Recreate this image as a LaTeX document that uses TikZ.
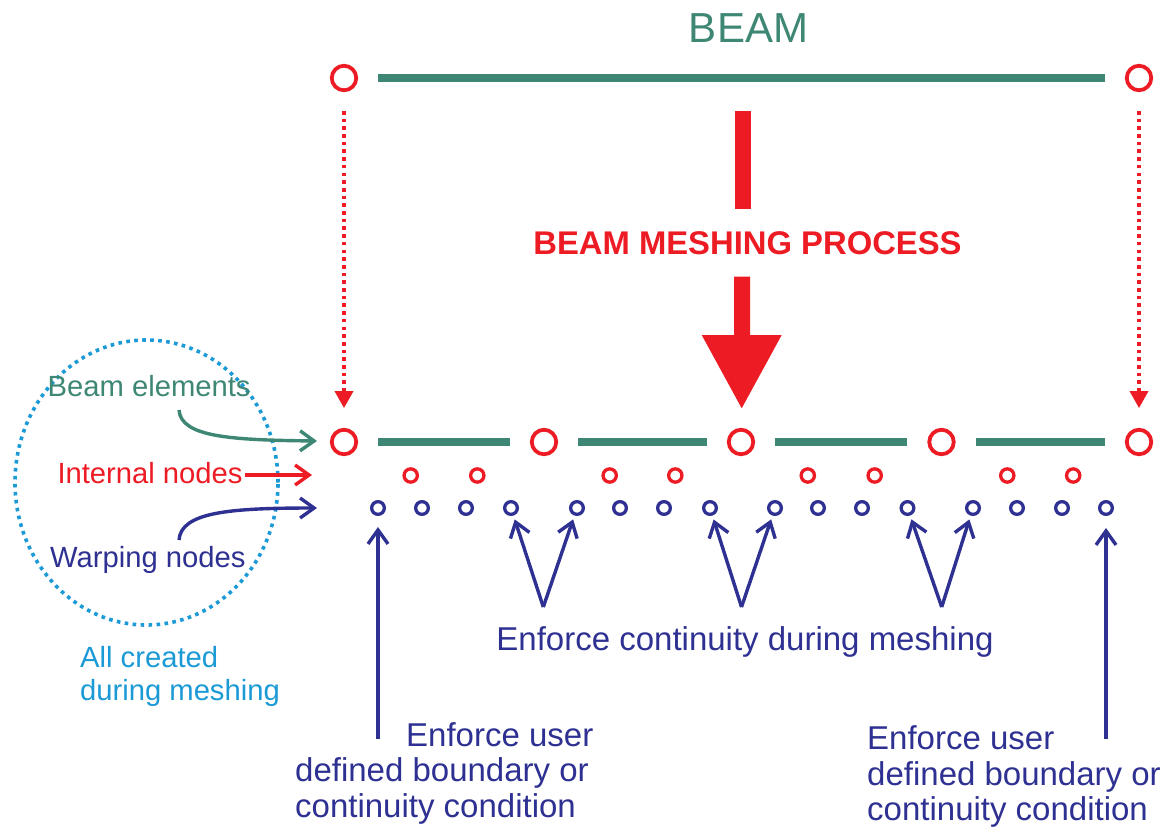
\documentclass[tikz,border=0pt]{standalone}
\usepackage{fontspec}
\setmainfont{Liberation Sans}
\usetikzlibrary{arrows.meta}
\definecolor{beamgreen}{HTML}{3E8774}
\definecolor{nodered}{HTML}{ED1C24}
\definecolor{warpblue}{HTML}{2E3192}
\definecolor{skyblue}{HTML}{1B9AD6}
\tikzset{
  bignode/.style={circle, draw=nodered, line width=3.8pt, minimum size=24.5pt, inner sep=0pt},
  intnode/.style={circle, draw=nodered, line width=3.3pt, minimum size=13.3pt, inner sep=0pt},
  warpnode/.style={circle, draw=warpblue, line width=3.3pt, minimum size=12.7pt, inner sep=0pt},
  beamline/.style={draw=beamgreen, line width=7.8pt, shorten <=20pt, shorten >=20pt},
  meshdots/.style={draw=nodered, line width=3.6pt, dash pattern=on 3.6pt off 4.1pt, -{Triangle[length=17pt,width=18pt]}},
  barb/.style={line width=3.4pt, -{Straight Barb[length=14pt,width=20pt]}},
  lbl/.style={inner sep=0pt, anchor=base west},
  ctr/.style={inner sep=0pt, anchor=base},
  smallfont/.style={font=\fontsize{29.2}{34}\selectfont},
  midfont/.style={font=\fontsize{33}{38}\selectfont},
}
\begin{document}
\begin{tikzpicture}[x=1pt,y=-1pt]
\useasboundingbox[fill=white] (0,0) rectangle (1175,830);

% title
\node[ctr, text=beamgreen, font=\fontsize{42}{48}\selectfont] (title) at (748.5,42) {BEAM};

% top beam
\node[bignode] (t1) at (344,78) {};
\node[bignode] (t2) at (1139,78) {};
\draw[beamline] (t1) -- (t2);

% bottom beam nodes
\node[bignode] (b1) at (344,442) {};
\node[bignode] (b2) at (544,442) {};
\node[bignode] (b3) at (741,442) {};
\node[bignode] (b4) at (941.5,442) {};
\node[bignode] (b5) at (1139,442) {};
\draw[beamline] (b1) -- (b2);
\draw[beamline] (b2) -- (b3);
\draw[beamline] (b3) -- (b4);
\draw[beamline] (b4) -- (b5);

% dotted projections
\draw[meshdots, shorten <=18.75pt, shorten >=19.75pt] (t1) -- (b1);
\draw[meshdots, shorten <=18.75pt, shorten >=19.75pt] (t2) -- (b5);

% big process arrow
\node[ctr, text=nodered, font=\fontsize{32.8}{38}\selectfont\bfseries] (proc) at (747.5,254.3) {BEAM MESHING PROCESS};
\fill[nodered] (735,110.7) rectangle (750.5,209);
\fill[nodered] (734,276.7) -- (750,276.7) -- (750,335) -- (781.7,335) -- (741.7,408.3) -- (701.7,335) -- (734,335) -- cycle;

% internal nodes
\foreach \x [count=\i] in {410.7,477.3,609.7,675.3,807.8,874.7,1007.3,1073.2}
  \node[intnode] (i\i) at (\x,475.5) {};

% warping nodes
\foreach \x [count=\i] in {378,422,466,511,577,620,664,710,775,818,862,907.5,973,1017,1062,1106}
  \node[warpnode] (w\i) at (\x,508) {};

% grouping ellipse and legend
\draw[skyblue, line width=3.6pt, dash pattern=on 3.6pt off 4.4pt] (146.5,482.5) ellipse [x radius=131.5pt, y radius=142.5pt];
\node[lbl, smallfont, text=beamgreen] (lbeam) at (47.5,396.7) {Beam elements};
\node[lbl, smallfont, text=nodered] (lint) at (57.3,483.3) {Internal nodes};
\node[lbl, smallfont, text=warpblue] (lwarp) at (50,567.3) {Warping nodes};
\node[lbl, smallfont, text=skyblue] (lall1) at (80,667.3) {All created};
\node[lbl, smallfont, text=skyblue] (lall2) at (80,700) {during meshing};

\coordinate (se) at (179,410);
\coordinate (pe) at (317,441);
\coordinate (si) at (245,475);
\coordinate (pi) at (312,475);
\coordinate (sw) at (179,540);
\coordinate (pw) at (317,508);
\draw[barb, beamgreen] (se) .. controls (181,437) and (230,440) .. (pe);
\draw[barb, nodered] (si) -- (pi);
\draw[barb, warpblue] (sw) .. controls (181,512) and (230,508) .. (pw);

% continuity arrows
\coordinate (v1) at (543.3,607);
\coordinate (v2) at (741.5,607);
\coordinate (v3) at (941.7,607);
\draw[barb, warpblue, shorten >=4pt] (v1) -- (w4);
\draw[barb, warpblue, shorten >=4pt] (v1) -- (w5);
\draw[barb, warpblue, shorten >=4pt] (v2) -- (w8);
\draw[barb, warpblue, shorten >=4pt] (v2) -- (w9);
\draw[barb, warpblue, shorten >=4pt] (v3) -- (w12);
\draw[barb, warpblue, shorten >=4pt] (v3) -- (w13);
\node[ctr, midfont, text=warpblue] (cont) at (745,650) {Enforce continuity during meshing};

% boundary arrows
\coordinate (u1) at (378,739);
\coordinate (u2) at (1106,739);
\draw[barb, warpblue, shorten >=11pt] (u1) -- (w1);
\draw[barb, warpblue, shorten >=12pt] (u2) -- (w16);

\node[lbl, midfont, text=warpblue] (bl1) at (406,746) {Enforce user};
\node[lbl, midfont, text=warpblue] (bl2) at (295,781.5) {defined boundary or};
\node[lbl, midfont, text=warpblue] (bl3) at (295,817) {continuity condition};
\node[lbl, midfont, text=warpblue] (br1) at (867,749) {Enforce user};
\node[lbl, midfont, text=warpblue] (br2) at (867,785) {defined boundary or};
\node[lbl, midfont, text=warpblue] (br3) at (867,820) {continuity condition};
\end{tikzpicture}
\end{document}
